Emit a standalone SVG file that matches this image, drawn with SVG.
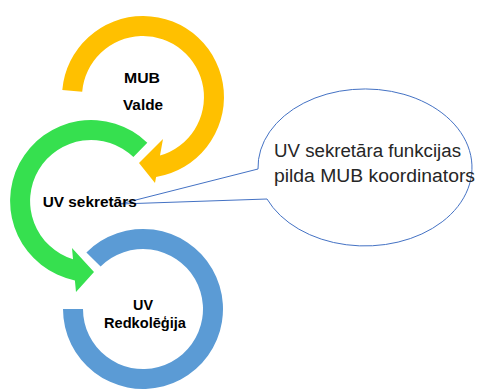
<svg xmlns="http://www.w3.org/2000/svg" width="477" height="389" viewBox="0 0 477 389">
<style>
.lbl{font-family:"Liberation Sans",Arial,sans-serif;font-weight:bold;font-size:15.5px;fill:#000;text-anchor:middle}
.note{font-family:"Liberation Sans",Arial,sans-serif;font-size:18px;fill:#262626}
</style>
<rect width="477" height="389" fill="#fff"/>
<g id="callout">
<path d="M120 204 L258 169 A107 78.5 0 1 1 267 199 Z" fill="#fff" stroke="#4472C4" stroke-width="1"/>
</g>
<g id="node-mub-valde">
<path d="M62.3 89.9 A81 81 0 1 1 156.1 176.9 L155 183 L139 163 L163 139 L160 155.6 A61 61 0 1 0 82.2 91.7 Z" fill="#FFC000"/>
<text class="lbl" x="142" y="83" textLength="36" lengthAdjust="spacingAndGlyphs">MUB</text>
<text class="lbl" x="143" y="110" textLength="40" lengthAdjust="spacingAndGlyphs">Valde</text>
</g>
<g id="node-uv-sekretars">
<path d="M147.3 142.7 A81 81 0 1 0 74.9 280.4 L76 292 L94 272 L72 248 L73 259.3 A61 61 0 1 1 133.4 157.1 Z" fill="#36E04F"/>
<text class="lbl" x="89.7" y="206.5" textLength="94" lengthAdjust="spacingAndGlyphs">UV sekretārs</text>
</g>
<g id="node-uv-redkolegija">
<path d="M63 309 A80 80 0 1 0 86.4 252.4 L100.6 266.6 A60 60 0 1 1 83 309 Z" fill="#5B9BD5"/>
<text class="lbl" x="143" y="310" textLength="20" lengthAdjust="spacingAndGlyphs">UV</text>
<text class="lbl" x="145" y="327.5" textLength="82" lengthAdjust="spacingAndGlyphs">Redkolēģija</text>
</g>
<g id="callout-text">
<text class="note" x="274" y="157" textLength="187" lengthAdjust="spacingAndGlyphs">UV sekretāra funkcijas</text>
<text class="note" x="274" y="182" textLength="201" lengthAdjust="spacingAndGlyphs">pilda MUB koordinators</text>
</g>
<g id="connectors"/>
</svg>
